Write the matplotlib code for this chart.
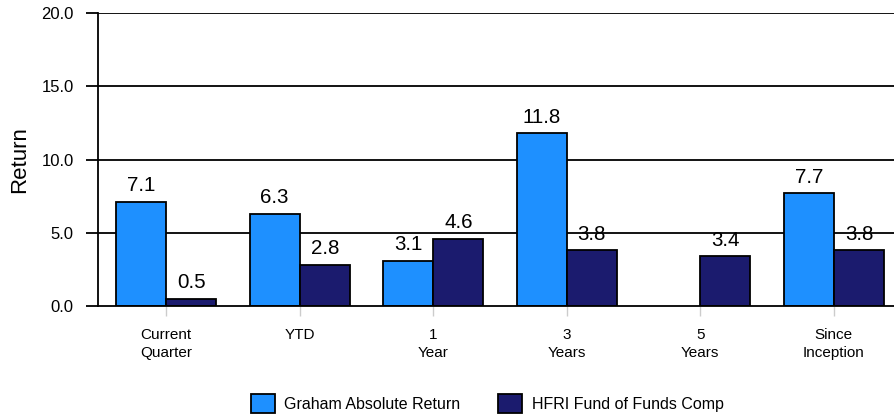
import numpy as np
import matplotlib
matplotlib.use("Agg")
import matplotlib.pyplot as plt

plt.rcParams['font.family'] = ['Liberation Sans', 'DejaVu Sans']

categories = ["Current\nQuarter", "YTD", "1\nYear", "3\nYears", "5\nYears", "Since\nInception"]
graham = [7.1, 6.3, 3.1, 11.8, np.nan, 7.7]
hfri = [0.5, 2.8, 4.6, 3.8, 3.4, 3.8]
series_names = ["Graham Absolute Return", "HFRI Fund of Funds Comp"]
yticks = [0.0, 5.0, 10.0, 15.0, 20.0]

blue = "#1e90ff"
navy = "#1b1b6e"

fig = plt.figure(figsize=(8.94, 4.17), dpi=100)
ax = fig.add_axes([0.1096, 0.2662, 0.8904, 0.7026])

x = np.arange(len(categories))
w = 0.375

for yv in yticks[1:]:
    ax.axhline(yv, color="black", lw=1.3, zorder=1.5)

b1 = ax.bar(x - w / 2, graham, w, color=blue, edgecolor="black", lw=1.3, zorder=2,
            label=series_names[0])
b2 = ax.bar(x + w / 2, hfri, w, color=navy, edgecolor="black", lw=1.3, zorder=2,
            label=series_names[1])

for bars, vals in ((b1, graham), (b2, hfri)):
    for rect, v in zip(bars, vals):
        if np.isnan(v):
            continue
        ax.text(rect.get_x() + rect.get_width() / 2, v + 0.45, f"{v:.1f}",
                ha="center", va="bottom", fontsize=14.8, zorder=1)

ax.set_ylim(0, 20)
ax.set_xlim(-0.51, 5.45)
ax.set_yticks(yticks)
ax.set_yticklabels([f"{t:.1f}" for t in yticks])
ax.set_xticks(x)
ax.set_xticklabels(categories, fontsize=11, linespacing=1.3)
ax.tick_params(axis="y", length=8.5, width=1.3, pad=9, labelsize=12)
ax.tick_params(axis="x", length=7, width=1, color="#cccccc", pad=9)

for s in ("top", "right"):
    ax.spines[s].set_visible(False)
ax.spines["left"].set_linewidth(1.3)
ax.spines["bottom"].set_linewidth(1.3)

ax.set_ylabel("Return", fontsize=16, labelpad=8)

fig.legend(handles=[b1, b2], labels=series_names, loc="lower center",
           bbox_to_anchor=(0.545, -0.025), ncol=2, frameon=False, fontsize=11.5,
           handlelength=1.5, handleheight=1.5, columnspacing=2.35,
           handletextpad=0.6)

fig.savefig("out.png", dpi=100)
